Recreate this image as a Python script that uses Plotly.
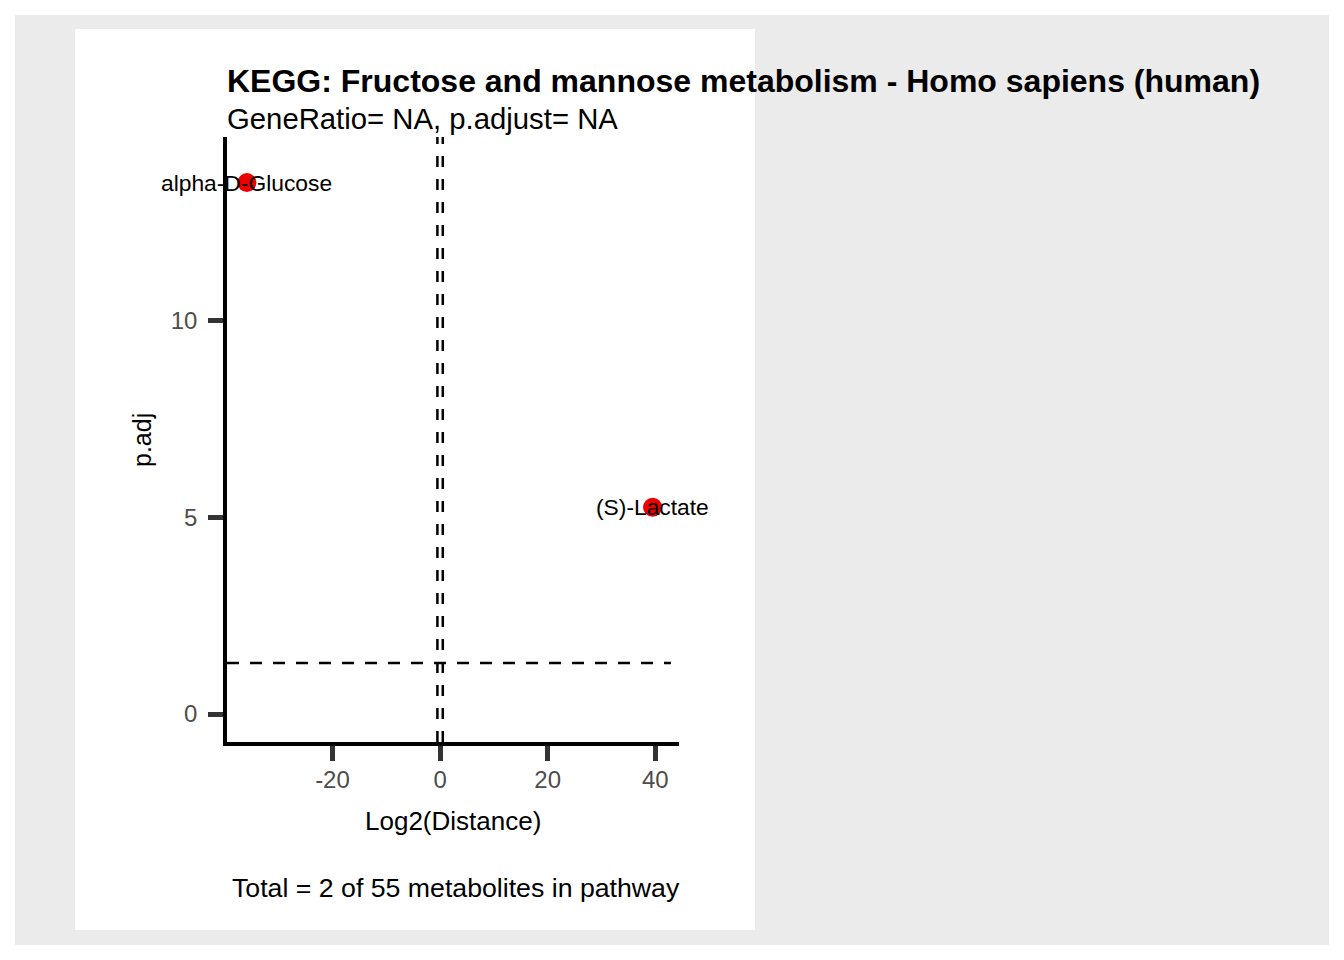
import plotly.graph_objects as go

# values
metabolites = ["alpha-D-Glucose", "(S)-Lactate"]
log2_distance = [-35.9, 39.5]
p_adj = [13.52, 5.26]
fc_cutoffs = [-0.5, 0.5]
p_cutoff = 1.301  # -log10(0.05)

x_ticks = [-20, 0, 20, 40]
x_tick_text = ["-20", "0", "20", "40"]
y_ticks = [0, 5, 10]
x_range = [-39.6, 44.4]
y_range = [-0.71, 14.68]
hline_end = 42.9

title = "KEGG: Fructose and mannose metabolism - Homo sapiens (human)"
subtitle = "GeneRatio= NA, p.adjust= NA"
caption = "Total = 2 of 55 metabolites in pathway"

# page has an 8px body margin, so the figure is a bit smaller
OFF = 8
W, H = 1344 - OFF, 960 - OFF
L, R, T, B = 227, 679, 137, 742  # plot area in page pixels


def px(x):
    return (x - L) / (R - L)


def py(y):
    return (B - y) / (B - T)


font = "Liberation Sans, Arial, sans-serif"

fig = go.Figure()

# dashed cut-off lines
for c in fc_cutoffs:
    fig.add_trace(go.Scatter(x=[c, c], y=y_range, mode="lines",
                             line=dict(color="black", width=2.5, dash="11px,12px"),
                             hoverinfo="skip", showlegend=False))
fig.add_trace(go.Scatter(x=[x_range[0], hline_end], y=[p_cutoff, p_cutoff],
                         mode="lines",
                         line=dict(color="black", width=2.5, dash="12px,11px"),
                         hoverinfo="skip", showlegend=False))

fig.add_trace(go.Scatter(x=log2_distance, y=p_adj, mode="markers",
                         text=metabolites, hoverinfo="text",
                         marker=dict(color="#EE0000", size=19),
                         cliponaxis=False, showlegend=False))

# point labels, centred on the points
for name, xv, yv in zip(metabolites, log2_distance, p_adj):
    fig.add_annotation(x=xv, y=yv, text=name, showarrow=False, yshift=0,
                       xanchor="center", yanchor="middle",
                       font=dict(size=22.8, color="black", family=font))

# background panels
fig.add_shape(type="rect", xref="paper", yref="paper", layer="below",
              x0=px(15), x1=px(1329), y0=py(945), y1=py(15),
              fillcolor="#EBEBEB", line_width=0)
fig.add_shape(type="rect", xref="paper", yref="paper", layer="below",
              x0=px(75), x1=px(755), y0=py(930), y1=py(29),
              fillcolor="white", line_width=0)

ann = dict(xref="paper", yref="paper", showarrow=False)
fig.add_annotation(text="<b>" + title + "</b>", x=px(225), y=py(81), xanchor="left",
                   yanchor="middle", font=dict(size=32, color="black", family=font), **ann)
fig.add_annotation(text=subtitle, x=px(225), y=py(118), xanchor="left",
                   yanchor="middle", font=dict(size=29.3, color="black", family=font), **ann)
fig.add_annotation(text=caption, x=px(682), y=py(888), xanchor="right",
                   yanchor="middle", font=dict(size=26.7, color="black", family=font), **ann)
fig.add_annotation(text="Log2(Distance)", x=0.5, y=py(821), xanchor="center",
                   yanchor="middle", font=dict(size=26, color="black", family=font), **ann)
fig.add_annotation(text="p.adj", x=px(142), y=py(440), textangle=-90,
                   xanchor="center", yanchor="middle",
                   font=dict(size=25, color="black", family=font), **ann)

axis_common = dict(showgrid=False, zeroline=False, showline=True,
                   linecolor="black", linewidth=3.5, ticks="outside",
                   ticklen=15, tickwidth=5, tickcolor="#333333",
                   tickfont=dict(size=24, color="#4D4D4D", family=font))
fig.update_xaxes(range=x_range, tickvals=x_ticks, ticktext=x_tick_text,
                 ticklabelstandoff=-2, **axis_common)
fig.update_yaxes(range=y_range, tickvals=y_ticks, ticklabelstandoff=6,
                 **axis_common)

fig.update_layout(width=W, height=H, autosize=False,
                  margin=dict(l=L - OFF, r=W - (R - OFF), t=T - OFF,
                              b=H - (B - OFF), autoexpand=False),
                  paper_bgcolor="white", plot_bgcolor="rgba(0,0,0,0)",
                  showlegend=False)

fig.write_html("out.html")
